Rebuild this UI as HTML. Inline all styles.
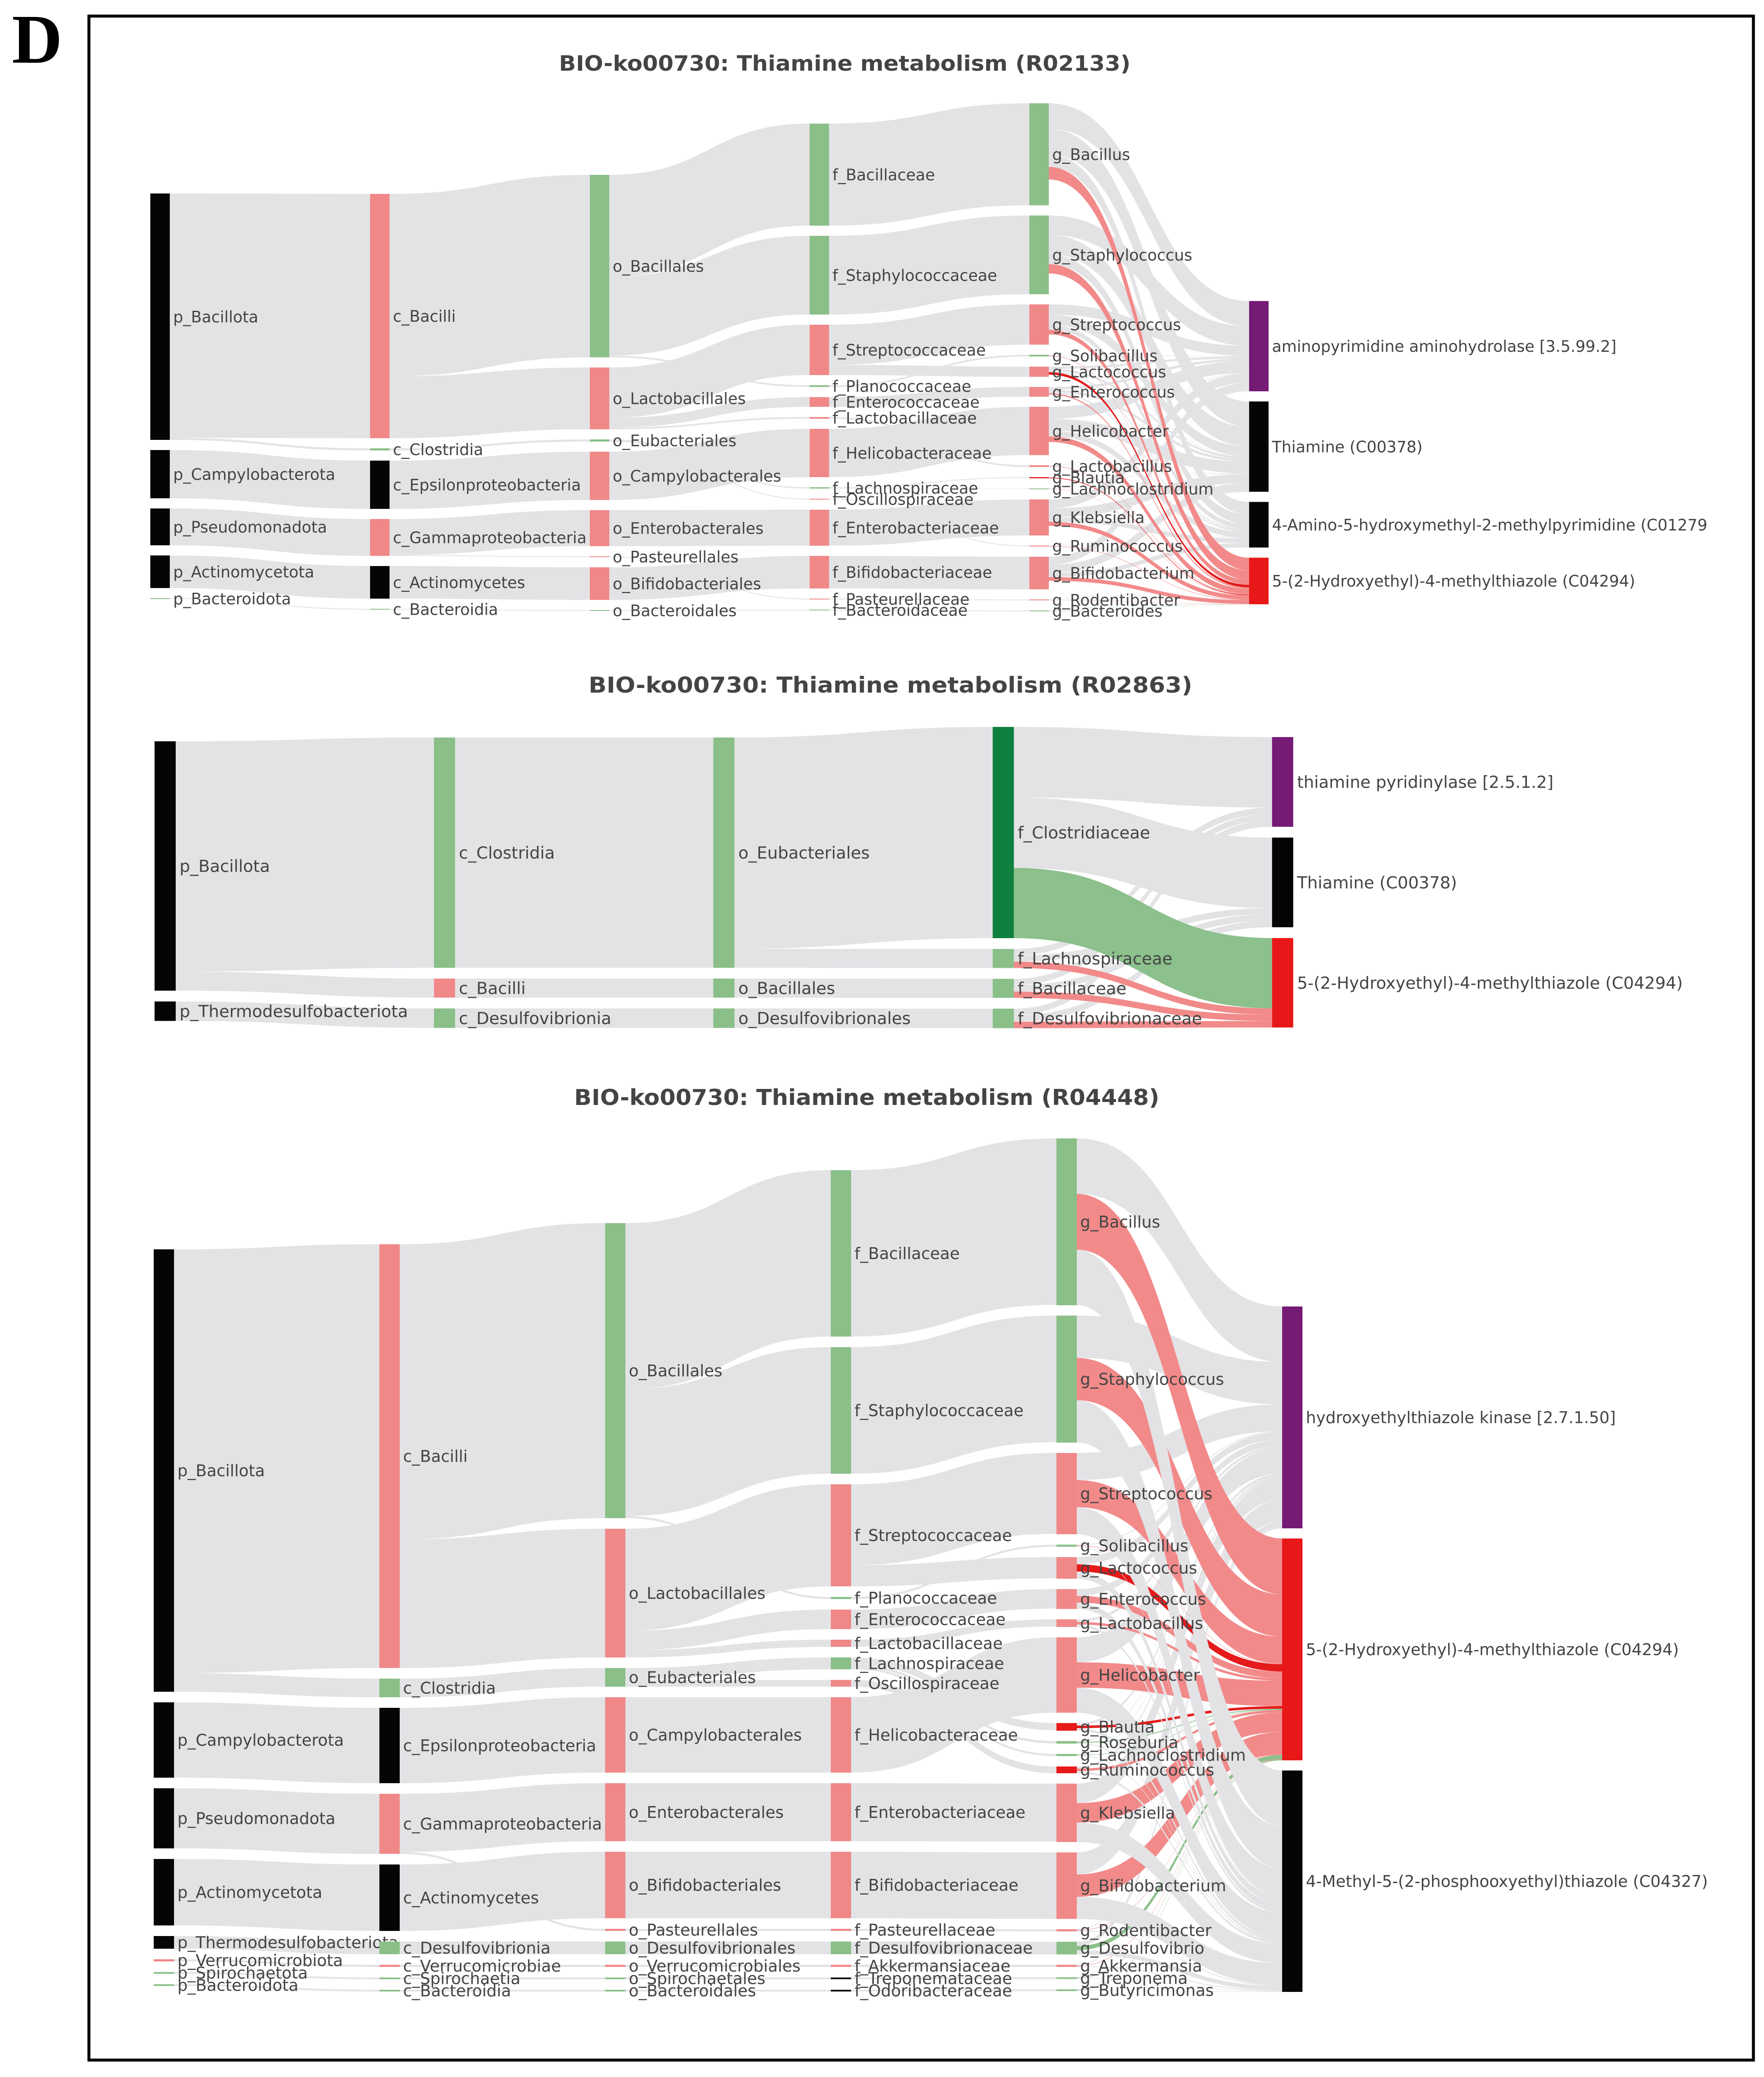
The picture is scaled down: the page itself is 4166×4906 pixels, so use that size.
<!DOCTYPE html>
<html lang="en">
<head>
<meta charset="utf-8">
<title>BIO-ko00730 Thiamine metabolism Sankey diagrams</title>
<style>
html,body{margin:0;padding:0;background:#fff}
svg{display:block}
text{font-family:"DejaVu Sans","Liberation Sans",sans-serif;fill:#444}
</style>
</head>
<body>
<svg id="figure" xmlns="http://www.w3.org/2000/svg" width="4166" height="4906" viewBox="0 0 4166 4906">
  <rect x="0" y="0" width="4166" height="4906" fill="#fff"/>
  <rect x="210" y="38" width="3931" height="4828" fill="none" stroke="#000" stroke-width="7"/>
  <text x="28" y="148" style="font-family:'Liberation Serif',serif;font-weight:700;fill:#000" font-size="165">D</text>
  <text x="1320" y="167" font-size="50" font-weight="700" textLength="1350" lengthAdjust="spacingAndGlyphs">BIO-ko00730: Thiamine metabolism (R02133)</text>
  <text x="1390" y="1636" font-size="52" font-weight="700" textLength="1426" lengthAdjust="spacingAndGlyphs">BIO-ko00730: Thiamine metabolism (R02863)</text>
  <text x="1356" y="2610" font-size="52" font-weight="700" textLength="1382" lengthAdjust="spacingAndGlyphs">BIO-ko00730: Thiamine metabolism (R04448)</text>
</svg>
<script>
/* ---------- Chart 1: R02133 ---------- */
const chart1Phylum = ["p_Bacillota","p_Campylobacterota","p_Pseudomonadota","p_Actinomycetota","p_Bacteroidota"];
const chart1PhylumGroup = ["k","k","k","k","g"];
const chart1Class = ["c_Bacilli","c_Clostridia","c_Epsilonproteobacteria","c_Gammaproteobacteria","c_Actinomycetes","c_Bacteroidia"];
const chart1ClassGroup = ["p","g","k","p","k","g"];
const chart1Order = ["o_Bacillales","o_Lactobacillales","o_Eubacteriales","o_Campylobacterales","o_Enterobacterales","o_Pasteurellales","o_Bifidobacteriales","o_Bacteroidales"];
const chart1OrderGroup = ["g","p","g","p","p","p","p","g"];
const chart1Family = ["f_Bacillaceae","f_Staphylococcaceae","f_Streptococcaceae","f_Planococcaceae","f_Enterococcaceae","f_Lactobacillaceae","f_Helicobacteraceae","f_Lachnospiraceae","f_Oscillospiraceae","f_Enterobacteriaceae","f_Bifidobacteriaceae","f_Pasteurellaceae","f_Bacteroidaceae"];
const chart1FamilyGroup = ["g","g","p","g","p","p","p","g","p","p","p","p","g"];
const chart1Genus = ["g_Bacillus","g_Staphylococcus","g_Streptococcus","g_Solibacillus","g_Lactococcus","g_Enterococcus","g_Helicobacter","g_Lactobacillus","g_Blautia","g_Lachnoclostridium","g_Klebsiella","g_Ruminococcus","g_Bifidobacterium","g_Rodentibacter","g_Bacteroides"];
const chart1GenusGroup = ["g","g","p","g","p","p","p","p","r","g","p","p","p","p","g"];
const chart1Compound = ["aminopyrimidine aminohydrolase [3.5.99.2]","Thiamine (C00378)","4-Amino-5-hydroxymethyl-2-methylpyrimidine (C01279","5-(2-Hydroxyethyl)-4-methylthiazole (C04294)"];
const chart1CompoundGroup = ["v","k","k","r"];
const chart1TaxonLinks = [
["p_Bacillota","c_Bacilli",577],["p_Bacillota","c_Clostridia",5],["p_Campylobacterota","c_Epsilonproteobacteria",114],["p_Pseudomonadota","c_Gammaproteobacteria",87],["p_Actinomycetota","c_Actinomycetes",77],["p_Bacteroidota","c_Bacteroidia",2],
["c_Bacilli","o_Bacillales",431],["c_Bacilli","o_Lactobacillales",146],["c_Clostridia","o_Eubacteriales",5],["c_Epsilonproteobacteria","o_Campylobacterales",114],["c_Gammaproteobacteria","o_Enterobacterales",85],["c_Gammaproteobacteria","o_Pasteurellales",2],["c_Actinomycetes","o_Bifidobacteriales",77],["c_Bacteroidia","o_Bacteroidales",2],
["o_Bacillales","f_Bacillaceae",241],["o_Bacillales","f_Staphylococcaceae",186],["o_Bacillales","f_Planococcaceae",4],["o_Lactobacillales","f_Streptococcaceae",119],["o_Lactobacillales","f_Enterococcaceae",23],["o_Lactobacillales","f_Lactobacillaceae",4],["o_Eubacteriales","f_Lachnospiraceae",3],["o_Eubacteriales","f_Oscillospiraceae",2],["o_Campylobacterales","f_Helicobacteraceae",114],["o_Enterobacterales","f_Enterobacteriaceae",85],["o_Pasteurellales","f_Pasteurellaceae",2],["o_Bifidobacteriales","f_Bifidobacteriaceae",77],["o_Bacteroidales","f_Bacteroidaceae",2],
["f_Bacillaceae","g_Bacillus",241],["f_Staphylococcaceae","g_Staphylococcus",186],["f_Streptococcaceae","g_Streptococcus",95],["f_Streptococcaceae","g_Lactococcus",24],["f_Planococcaceae","g_Solibacillus",4],["f_Enterococcaceae","g_Enterococcus",23],["f_Lactobacillaceae","g_Lactobacillus",4],["f_Helicobacteraceae","g_Helicobacter",114],["f_Lachnospiraceae","g_Blautia",2],["f_Lachnospiraceae","g_Lachnoclostridium",1],["f_Oscillospiraceae","g_Ruminococcus",2],["f_Enterobacteriaceae","g_Klebsiella",85],["f_Bifidobacteriaceae","g_Bifidobacterium",77],["f_Pasteurellaceae","g_Rodentibacter",2],["f_Bacteroidaceae","g_Bacteroides",2]
];
const chart1GenusFlows = [[60,60,30,30],[46,46,23,22],[24,24,12,11],[1,1,.5,1],[5,5,3,6],[6,6,3,3],[28,28,14,13],[1,1,.5,1],[.5,.5,.25,1.5],[.3,.3,.2,.5],[21,21,10.5,10],[.5,.5,.25,1],[19,19,10,9],[.5,.5,.25,.5],[.5,.5,.25,.5]];
const chart1FlowGroup = ["p","p","p","p","r","p","p","p","r","p","p","p","p","p","g"];

/* ---------- Chart 2: R02863 ---------- */
const chart2Phylum = ["p_Bacillota","p_Thermodesulfobacteriota"];
const chart2PhylumGroup = ["k","k"];
const chart2Class = ["c_Clostridia","c_Bacilli","c_Desulfovibrionia"];
const chart2ClassGroup = ["g","p","g"];
const chart2Order = ["o_Eubacteriales","o_Bacillales","o_Desulfovibrionales"];
const chart2OrderGroup = ["g","g","g"];
const chart2Family = ["f_Clostridiaceae","f_Lachnospiraceae","f_Bacillaceae","f_Desulfovibrionaceae"];
const chart2FamilyGroup = ["d","g","g","g"];
const chart2Compound = ["thiamine pyridinylase [2.5.1.2]","Thiamine (C00378)","5-(2-Hydroxyethyl)-4-methylthiazole (C04294)"];
const chart2CompoundGroup = ["v","k","r"];
const chart2TaxonLinks = [
["p_Bacillota","c_Clostridia",544],["p_Bacillota","c_Bacilli",45],["p_Thermodesulfobacteriota","c_Desulfovibrionia",46],
["c_Clostridia","o_Eubacteriales",544],["c_Bacilli","o_Bacillales",45],["c_Desulfovibrionia","o_Desulfovibrionales",46],
["o_Eubacteriales","f_Clostridiaceae",499],["o_Eubacteriales","f_Lachnospiraceae",45],["o_Bacillales","f_Bacillaceae",45],["o_Desulfovibrionales","f_Desulfovibrionaceae",46]
];
const chart2FamilyFlows = [[166.5,166.5,166],[15,15,15],[15,15,15],[15.4,15.3,15.3]];
const chart2FlowGroup = ["g","p","p","p"];

/* ---------- Chart 3: R04448 ---------- */
const chart3Phylum = ["p_Bacillota","p_Campylobacterota","p_Pseudomonadota","p_Actinomycetota","p_Thermodesulfobacteriota","p_Verrucomicrobiota","p_Spirochaetota","p_Bacteroidota"];
const chart3PhylumGroup = ["k","k","k","k","k","p","g","g"];
const chart3Class = ["c_Bacilli","c_Clostridia","c_Epsilonproteobacteria","c_Gammaproteobacteria","c_Actinomycetes","c_Desulfovibrionia","c_Verrucomicrobiae","c_Spirochaetia","c_Bacteroidia"];
const chart3ClassGroup = ["p","g","k","p","k","g","p","g","g"];
const chart3Order = ["o_Bacillales","o_Lactobacillales","o_Eubacteriales","o_Campylobacterales","o_Enterobacterales","o_Bifidobacteriales","o_Pasteurellales","o_Desulfovibrionales","o_Verrucomicrobiales","o_Spirochaetales","o_Bacteroidales"];
const chart3OrderGroup = ["g","p","g","p","p","p","p","g","p","g","g"];
const chart3Family = ["f_Bacillaceae","f_Staphylococcaceae","f_Streptococcaceae","f_Planococcaceae","f_Enterococcaceae","f_Lactobacillaceae","f_Lachnospiraceae","f_Oscillospiraceae","f_Helicobacteraceae","f_Enterobacteriaceae","f_Bifidobacteriaceae","f_Pasteurellaceae","f_Desulfovibrionaceae","f_Akkermansiaceae","f_Treponemataceae","f_Odoribacteraceae"];
const chart3FamilyGroup = ["g","g","p","g","p","p","g","p","p","p","p","p","g","p","k","k"];
const chart3Genus = ["g_Bacillus","g_Staphylococcus","g_Streptococcus","g_Solibacillus","g_Lactococcus","g_Enterococcus","g_Lactobacillus","g_Helicobacter","g_Blautia","g_Roseburia","g_Lachnoclostridium","g_Ruminococcus","g_Klebsiella","g_Bifidobacterium","g_Rodentibacter","g_Desulfovibrio","g_Akkermansia","g_Treponema","g_Butyricimonas"];
const chart3GenusGroup = ["g","g","p","g","p","p","p","p","r","g","g","r","p","p","p","g","p","g","g"];
const chart3Compound = ["hydroxyethylthiazole kinase [2.7.1.50]","5-(2-Hydroxyethyl)-4-methylthiazole (C04294)","4-Methyl-5-(2-phosphooxyethyl)thiazole (C04327)"];
const chart3CompoundGroup = ["v","r","k"];
const chart3TaxonLinks = [
["p_Bacillota","c_Bacilli",1001],["p_Bacillota","c_Clostridia",44],["p_Campylobacterota","c_Epsilonproteobacteria",178],["p_Pseudomonadota","c_Gammaproteobacteria",142],["p_Actinomycetota","c_Actinomycetes",157],["p_Thermodesulfobacteriota","c_Desulfovibrionia",30],["p_Verrucomicrobiota","c_Verrucomicrobiae",5],["p_Spirochaetota","c_Spirochaetia",4],["p_Bacteroidota","c_Bacteroidia",4],
["c_Bacilli","o_Bacillales",697],["c_Bacilli","o_Lactobacillales",304],["c_Clostridia","o_Eubacteriales",44],["c_Epsilonproteobacteria","o_Campylobacterales",178],["c_Gammaproteobacteria","o_Enterobacterales",137],["c_Gammaproteobacteria","o_Pasteurellales",5],["c_Actinomycetes","o_Bifidobacteriales",157],["c_Desulfovibrionia","o_Desulfovibrionales",30],["c_Verrucomicrobiae","o_Verrucomicrobiales",5],["c_Spirochaetia","o_Spirochaetales",4],["c_Bacteroidia","o_Bacteroidales",4],
["o_Bacillales","f_Bacillaceae",393],["o_Bacillales","f_Staphylococcaceae",299],["o_Bacillales","f_Planococcaceae",5],["o_Lactobacillales","f_Streptococcaceae",241],["o_Lactobacillales","f_Enterococcaceae",46],["o_Lactobacillales","f_Lactobacillaceae",17],["o_Eubacteriales","f_Lachnospiraceae",28],["o_Eubacteriales","f_Oscillospiraceae",16],["o_Campylobacterales","f_Helicobacteraceae",178],["o_Enterobacterales","f_Enterobacteriaceae",137],["o_Bifidobacteriales","f_Bifidobacteriaceae",157],["o_Pasteurellales","f_Pasteurellaceae",5],["o_Desulfovibrionales","f_Desulfovibrionaceae",30],["o_Verrucomicrobiales","f_Akkermansiaceae",5],["o_Spirochaetales","f_Treponemataceae",4],["o_Bacteroidales","f_Odoribacteraceae",4],
["f_Bacillaceae","g_Bacillus",393],["f_Staphylococcaceae","g_Staphylococcus",299],["f_Streptococcaceae","g_Streptococcus",191],["f_Streptococcaceae","g_Lactococcus",50],["f_Planococcaceae","g_Solibacillus",5],["f_Enterococcaceae","g_Enterococcus",46],["f_Lactobacillaceae","g_Lactobacillus",17],["f_Helicobacteraceae","g_Helicobacter",178],["f_Lachnospiraceae","g_Blautia",17],["f_Lachnospiraceae","g_Roseburia",6],["f_Lachnospiraceae","g_Lachnoclostridium",5],["f_Oscillospiraceae","g_Ruminococcus",16],["f_Enterobacteriaceae","g_Klebsiella",137],["f_Bifidobacteriaceae","g_Bifidobacterium",157],["f_Pasteurellaceae","g_Rodentibacter",5],["f_Desulfovibrionaceae","g_Desulfovibrio",30],["f_Akkermansiaceae","g_Akkermansia",5],["f_Treponemataceae","g_Treponema",4],["f_Odoribacteraceae","g_Butyricimonas",4]
];
const chart3GenusFlows = [[131,132,131],[100,100,100],[64,64,64],[2,1,2],[17,17,17],[16,16,15],[6,6,6],[59,60,59],[6,6,6],[2,2,2],[2,1,2],[5,6,5],[46,46,46],[52,53,52],[2,1,2],[10,10,10],[2,1,2],[1,1,1],[1,1,1]];
const chart3FlowGroup = ["p","p","p","p","r","p","p","p","r","g","g","p","p","p","p","g","p","g","g"];

/* ---------- Colour scale by group ---------- */
const nodeFill = {k:"#050505",p:"#f08888",g:"#8abf88",d:"#108040",v:"#751a75",r:"#e81818"};
const linkFill = {n:"#e3e3e6",p:"#f28a8a",g:"#8cc08c",r:"#e51a1a"};

/* ---------- Sankey renderer ---------- */
const SVGNS = "http://www.w3.org/2000/svg";
const figure = document.getElementById("figure");

function columnX(cfg, c){ return cfg.left + c * cfg.step; }
function valueToPx(cfg, v){ return v * cfg.pxPerUnit; }

function renderSankey(cfg, columns, groups, links){
  const root = document.createElementNS(SVGNS, "g");
  
  
  figure.appendChild(root);

  const nodes = {};
  columns.forEach(function(list, c){
    list.forEach(function(label, i){
      nodes[label] = {label: label, col: c, idx: i, group: groups[c][i], inSum: 0, outSum: 0, inLinks: [], outLinks: []};
    });
  });
  links.forEach(function(l){
    const s = nodes[l.source], t = nodes[l.target];
    s.outSum += l.value; t.inSum += l.value;
    s.outLinks.push(l); t.inLinks.push(l);
  });
  columns.forEach(function(list, c){
    let y = cfg.tops[c];
    const gap = cfg.gaps ? cfg.gaps[c] : cfg.gap;
    list.forEach(function(label){
      const n = nodes[label];
      n.h = Math.max(valueToPx(cfg, Math.max(n.inSum, n.outSum)), 2);
      n.y = y;
      y += n.h + gap;
    });
  });
  Object.keys(nodes).forEach(function(k){
    const n = nodes[k];
    n.outLinks.sort(function(a, b){ return nodes[a.target].idx - nodes[b.target].idx; });
    n.inLinks.sort(function(a, b){ return nodes[a.source].idx - nodes[b.source].idx; });
    let oy = n.y;
    n.outLinks.forEach(function(l){ l.y0 = oy; l.w = valueToPx(cfg, l.value); oy += l.w; });
    let iy = n.y;
    n.inLinks.forEach(function(l){ l.y1 = iy; iy += valueToPx(cfg, l.value); });
  });

  /* bottom-most sources paint first so the top genus flows stay uninterrupted */
  links.slice().sort(function(a, b){
    const sa = nodes[a.source], sb = nodes[b.source];
    if (sa.col !== sb.col) return sa.col - sb.col;
    return sb.idx - sa.idx;
  }).forEach(function(l){
    const x0 = columnX(cfg, nodes[l.source].col) + cfg.width;
    const x1 = columnX(cfg, nodes[l.target].col);
    const xm = (x0 + x1) / 2;
    const d = "M" + x0 + "," + l.y0 + "C" + xm + "," + l.y0 + " " + xm + "," + l.y1 + " " + x1 + "," + l.y1 +
      "L" + x1 + "," + (l.y1 + l.w) + "C" + xm + "," + (l.y1 + l.w) + " " + xm + "," + (l.y0 + l.w) + " " + x0 + "," + (l.y0 + l.w) + "Z";
    const el = document.createElementNS(SVGNS, "path");
    el.setAttribute("d", d);
    el.setAttribute("fill", linkFill[l.group]);
    
    
    root.appendChild(el);
  });

  columns.forEach(function(list){
    list.forEach(function(label){
      const n = nodes[label];
      const x = columnX(cfg, n.col);
      const r = document.createElementNS(SVGNS, "rect");
      r.setAttribute("x", x);
      r.setAttribute("y", n.y);
      r.setAttribute("width", cfg.width);
      r.setAttribute("height", n.h);
      r.setAttribute("fill", nodeFill[n.group]);
      
      
      root.appendChild(r);
      const t = document.createElementNS(SVGNS, "text");
      t.setAttribute("x", x + cfg.width + cfg.labelPad);
      t.setAttribute("y", n.y + n.h / 2 + cfg.font * 0.36);
      t.setAttribute("font-size", cfg.font);
      t.textContent = label;
      
      
      root.appendChild(t);
    });
  });
}

function taxonLinks(rows){
  return rows.map(function(r){ return {source: r[0], target: r[1], value: r[2], group: "n"}; });
}
function lastStageLinks(sources, targets, flows, flowGroups, colouredIndex){
  const out = [];
  sources.forEach(function(s, i){
    targets.forEach(function(t, j){
      out.push({source: s, target: t, value: flows[i][j], group: j === colouredIndex ? flowGroups[i] : "n"});
    });
  });
  return out;
}

renderSankey(
  {name:"sankey-r02133", left:355, step:519, width:46, gap:24, pxPerUnit:1, font:37, labelPad:8, tops:[457,458,413,292,244,711]},
  [chart1Phylum, chart1Class, chart1Order, chart1Family, chart1Genus, chart1Compound],
  [chart1PhylumGroup, chart1ClassGroup, chart1OrderGroup, chart1FamilyGroup, chart1GenusGroup, chart1CompoundGroup],
  taxonLinks(chart1TaxonLinks).concat(lastStageLinks(chart1Genus, chart1Compound, chart1GenusFlows, chart1FlowGroup, 3))
);
renderSankey(
  {name:"sankey-r02863", left:365, step:659.8, width:50, gap:25.5, pxPerUnit:1, font:39.3, labelPad:9, tops:[1751,1742,1742,1717,1741]},
  [chart2Phylum, chart2Class, chart2Order, chart2Family, chart2Compound],
  [chart2PhylumGroup, chart2ClassGroup, chart2OrderGroup, chart2FamilyGroup, chart2CompoundGroup],
  taxonLinks(chart2TaxonLinks).concat(lastStageLinks(chart2Family, chart2Compound, chart2FamilyFlows, chart2FlowGroup, 2))
);
renderSankey(
  {name:"sankey-r04448", left:363, step:533, width:48, gaps:[25,25,25,25,24.5,24], pxPerUnit:1, font:38, labelPad:8, tops:[2951,2939,2889,2764,2689,3086]},
  [chart3Phylum, chart3Class, chart3Order, chart3Family, chart3Genus, chart3Compound],
  [chart3PhylumGroup, chart3ClassGroup, chart3OrderGroup, chart3FamilyGroup, chart3GenusGroup, chart3CompoundGroup],
  taxonLinks(chart3TaxonLinks).concat(lastStageLinks(chart3Genus, chart3Compound, chart3GenusFlows, chart3FlowGroup, 1))
);
</script>
</body>
</html>
